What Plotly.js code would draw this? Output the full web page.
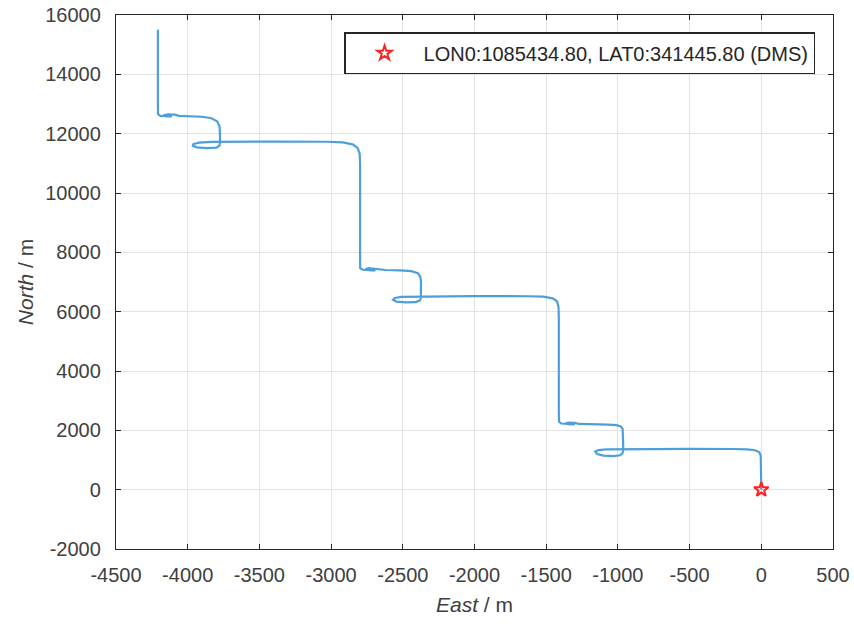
<!DOCTYPE html>
<html>
<head>
<meta charset="utf-8">
<script src="https://cdn.plot.ly/plotly-3.0.1.min.js"></script>
<style>html,body{margin:0;padding:0;background:#fff;}#chart{width:854px;height:624px;}</style>
</head>
<body>
<div id="chart"></div>
<script>
// Track (East, North) in metres
const east = [0, 0, -4, -15, -45, -100, -200, -500, -900, -1000, -1080, -1135, -1158, -1145, -1100, -1030, -985, -968, -964, -963, -963,
  -967, -980, -1010, -1070, -1200, -1270, -1300, -1340, -1365, -1345, -1300, -1340, -1395, -1410, -1412,
  -1412, -1414, -1425, -1455, -1520, -1620, -2000, -2300, -2430, -2510, -2555, -2568, -2545, -2480, -2410, -2380, -2374, -2373, -2373,
  -2378, -2395, -2440, -2520, -2620, -2660, -2700, -2740, -2760, -2730, -2690, -2730, -2780, -2797, -2798,
  -2798, -2801, -2815, -2850, -2920, -3030, -3400, -3700, -3830, -3920, -3960, -3964, -3935, -3870, -3800, -3778, -3775, -3775,
  -3778, -3795, -3835, -3900, -4000, -4060, -4090, -4140, -4170, -4150, -4110, -4150, -4190, -4207, -4208, -4208];
const north = [0, 900, 1150, 1270, 1330, 1360, 1370, 1372, 1372, 1370, 1360, 1335, 1290, 1200, 1150, 1130, 1160, 1220, 1300, 1500, 1900,
  2050, 2130, 2175, 2195, 2205, 2215, 2250, 2262, 2240, 2205, 2200, 2215, 2230, 2290, 2600,
  5800, 6150, 6350, 6450, 6505, 6520, 6522, 6520, 6515, 6500, 6460, 6400, 6340, 6310, 6320, 6380, 6460, 6700, 7000,
  7180, 7300, 7365, 7395, 7405, 7420, 7460, 7465, 7430, 7395, 7390, 7405, 7415, 7470, 7700,
  11000, 11330, 11520, 11640, 11705, 11728, 11732, 11730, 11722, 11700, 11650, 11590, 11540, 11515, 11530, 11600, 11700, 12000,
  12250, 12420, 12520, 12570, 12590, 12600, 12640, 12650, 12620, 12585, 12580, 12595, 12600, 12660, 13000, 15500];
const originEast = [0];
const originNorth = [0];
const legendLabel = 'LON0:1085434.80, LAT0:341445.80 (DMS)';
const xTicks = [-4500, -4000, -3500, -3000, -2500, -2000, -1500, -1000, -500, 0, 500];
const yTicks = [-2000, 0, 2000, 4000, 6000, 8000, 10000, 12000, 14000, 16000];

const axisCol = '#262626';
const tickFont = {family: 'Liberation Sans, Arial, sans-serif', size: 20, color: '#404040'};
const titleFont = {family: 'Liberation Sans, Arial, sans-serif', size: 21, color: '#404040'};

const data = [
  {x: east, y: north, type: 'scatter', mode: 'lines', showlegend: false,
   line: {color: '#4d9fdb', width: 2.2}, hoverinfo: 'skip'},
  {x: originEast, y: originNorth, type: 'scatter', mode: 'markers', name: legendLabel,
   marker: {symbol: 'star-open', size: 11, color: '#ff2020', line: {width: 2, color: '#ff2020'}}}
];

const axisCommon = {
  showline: true, linecolor: axisCol, linewidth: 1.2, mirror: 'ticks',
  ticks: 'inside', ticklen: 5, tickcolor: axisCol, tickwidth: 1,
  showgrid: true, gridcolor: '#e3e3e3', gridwidth: 1, zeroline: false,
  tickfont: tickFont, tickmode: 'array'
};

const layout = {
  width: 854, height: 624,
  margin: {l: 116, r: 21, t: 15, b: 75},
  paper_bgcolor: '#ffffff', plot_bgcolor: '#ffffff',
  xaxis: Object.assign({}, axisCommon, {
    range: [-4500, 500], tickvals: xTicks, ticktext: xTicks.map(String),
    ticklabelstandoff: 8,
    title: {text: '<i>East</i> / m', font: titleFont, standoff: 12}
  }),
  yaxis: Object.assign({}, axisCommon, {
    range: [-2000, 16000], tickvals: yTicks, ticktext: yTicks.map(String),
    ticklabelstandoff: 10,
    title: {text: '<i>North</i> / m', font: titleFont, standoff: 5}
  }),
  legend: {x: 0.975, xanchor: 'right', y: 0.968, yanchor: 'top',
    bgcolor: '#ffffff', bordercolor: axisCol, borderwidth: 1.5,
    font: {family: 'Liberation Sans, Arial, sans-serif', size: 20, color: '#262626'},
    itemwidth: 68},
  showlegend: true
};

Plotly.newPlot('chart', data, layout, {displayModeBar: false, staticPlot: true});
</script>
</body>
</html>
